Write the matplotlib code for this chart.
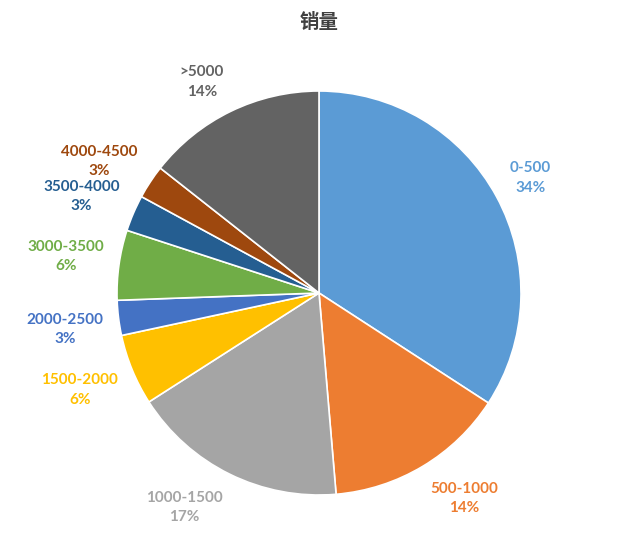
import numpy as np
import matplotlib
matplotlib.use("Agg")
from matplotlib import pyplot as plt

plt.rcParams["font.family"] = ["Lato", "Noto Sans CJK SC", "DejaVu Sans"]

# sales share per price band (percent)
categories = ["0-500", "500-1000", "1000-1500", "1500-2000", "2000-2500",
              "3000-3500", "3500-4000", "4000-4500", ">5000"]
values = [34.2, 14.5, 17.3, 5.7, 2.8, 5.6, 2.9, 2.7, 14.4]
pct_labels = ["34%", "14%", "17%", "6%", "3%", "6%", "3%", "3%", "14%"]
colors = ["#5B9BD5", "#ED7D31", "#A5A5A5", "#FFC000", "#4472C4",
          "#70AD47", "#255E91", "#9E480E", "#636363"]

R_PX = 202
fig = plt.figure(figsize=(6.2, 5.34), dpi=100)
ax = fig.add_axes([117/620, 39/534, 2*R_PX/620, 2*R_PX/534])

wedges, _ = ax.pie(values, colors=colors, startangle=90, counterclock=False,
                   radius=1.0, wedgeprops=dict(edgecolor="white", linewidth=1.2))

ax.set_xlim(-1, 1)
ax.set_ylim(-1, 1)
ax.set_aspect("equal")
ax.axis("off")

# labels outside the pie, box pushed out from the edge like Excel's best fit
renderer = fig.canvas.get_renderer()
gap = 15 / R_PX
for w, cat, pct, col in zip(wedges, categories, pct_labels, colors):
    mid = np.deg2rad((w.theta1 + w.theta2) / 2)
    t = ax.text(0, 0, f"{cat}\n{pct}", color=col, ha="center", va="center",
                fontsize=11, fontweight="bold", linespacing=1.5, clip_on=False)
    bb = t.get_window_extent(renderer)
    hw = bb.width / 2 / R_PX
    hh = bb.height / 2 / R_PX
    r = 1 + gap
    x = r*np.cos(mid) + hw*np.sign(np.cos(mid))
    y = r*np.sin(mid) + hh*np.sign(np.sin(mid))*np.sqrt(abs(np.sin(mid)))
    if np.sin(mid) < 0:
        y -= 4 / R_PX
    t.set_position((x, y))

fig.text(319/620, 1 - 22/534, "销量", ha="center", va="center",
         fontsize=14, fontweight="bold", color="#404040",
         family=["Noto Sans CJK SC", "DejaVu Sans"])

fig.savefig("out.png", dpi=100)
